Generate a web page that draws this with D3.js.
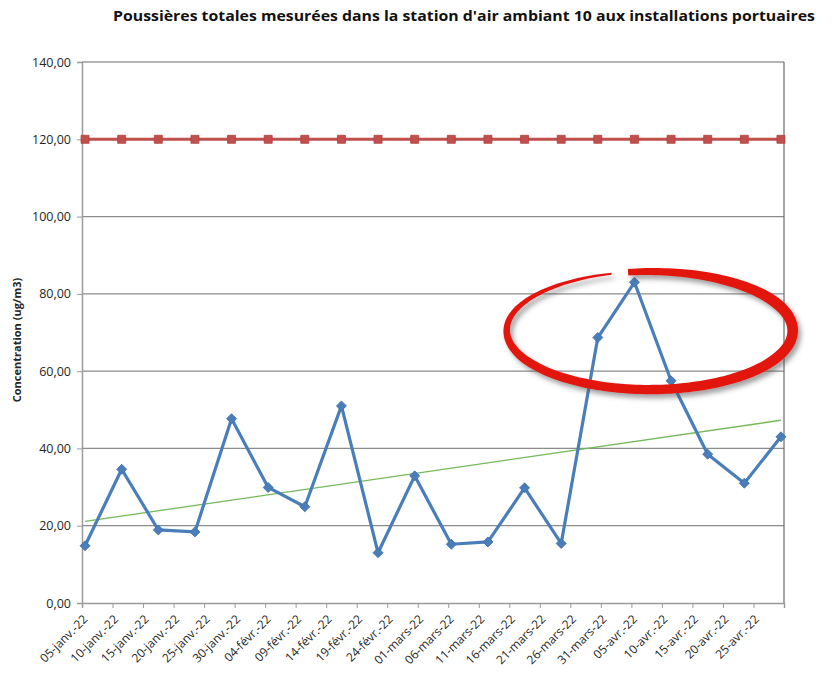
<!DOCTYPE html>
<html>
<head>
<meta charset="utf-8">
<script src="https://cdn.jsdelivr.net/npm/d3@7"></script>
<style>
  body { margin: 0; background: #fff; }
  text { font-family: "Open Sans", "Noto Sans", sans-serif; fill: #262626; }
</style>
</head>
<body>
<div id="chart"></div>
<script>
// measurement dates (every 6 days) and values in ug/m3
var dates = ["2022-01-05", "2022-01-11", "2022-01-17", "2022-01-23", "2022-01-29",
             "2022-02-04", "2022-02-10", "2022-02-16", "2022-02-22", "2022-02-28",
             "2022-03-06", "2022-03-12", "2022-03-18", "2022-03-24", "2022-03-30",
             "2022-04-05", "2022-04-11", "2022-04-17", "2022-04-23", "2022-04-29"];
var values = [14.8, 34.6, 18.9, 18.4, 47.7, 29.9, 24.9, 51.0, 13.0, 32.9,
              15.2, 15.8, 29.8, 15.4, 68.7, 83.0, 57.5, 38.5, 31.0, 43.0];
// norm (120 ug/m3) drawn at every measurement date
var limitValue = 120;
var tickLabels = ["05-janv.-22", "10-janv.-22", "15-janv.-22", "20-janv.-22", "25-janv.-22",
                  "30-janv.-22", "04-févr.-22", "09-févr.-22", "14-févr.-22", "19-févr.-22",
                  "24-févr.-22", "01-mars-22", "06-mars-22", "11-mars-22", "16-mars-22",
                  "21-mars-22", "26-mars-22", "31-mars-22", "05-avr.-22", "10-avr.-22",
                  "15-avr.-22", "20-avr.-22", "25-avr.-22"];
var yTicks = [0, 20, 40, 60, 80, 100, 120, 140];

var width = 833, height = 679;
var plot = {left: 82, right: 784, top: 62, bottom: 603};

var parse = d3.timeParse("%Y-%m-%d");
var dayMs = 24 * 3600 * 1000;
// excel puts points in the middle of the day slot
var points = dates.map((d, i) => ({date: new Date(parse(d).getTime() + dayMs / 2), value: values[i]}));

var xScale = d3.scaleTime()
    .domain([parse("2022-01-05"), parse("2022-04-30")])
    .range([plot.left, plot.right]);

var yScale = d3.scaleLinear()
    .domain([0, 140])
    .range([plot.bottom, plot.top]);

var svg = d3.select("#chart")
    .append("svg")
    .attr("width", width)
    .attr("height", height);

// title
svg.append("text")
    .attr("x", 113)
    .attr("y", 21)
    .attr("textLength", 702)
    .attr("lengthAdjust", "spacingAndGlyphs")
    .style("font-size", "14.5px")
    .style("font-weight", "bold")
    .style("fill", "#111")
    .text("Poussières totales mesurées dans la station d'air ambiant 10 aux installations portuaires");

// horizontal gridlines
svg.append("g")
    .selectAll("line")
    .data(yTicks.filter(d => d > 0))
    .enter()
    .append("line")
    .attr("x1", plot.left)
    .attr("x2", plot.right)
    .attr("y1", d => yScale(d))
    .attr("y2", d => yScale(d))
    .attr("stroke", d => d == 140 ? "#6b6b6b" : "#8c8c8c")
    .attr("stroke-width", 1.2);

// right border of plot area
svg.append("line")
    .attr("x1", plot.right).attr("x2", plot.right)
    .attr("y1", plot.top).attr("y2", plot.bottom)
    .attr("stroke", "#6b6b6b")
    .attr("stroke-width", 1.2);

// y axis
var yAxis = d3.axisLeft(yScale)
    .tickValues(yTicks)
    .tickSize(5)
    .tickPadding(6)
    .tickFormat(d => d3.format(".2f")(d).replace(".", ","));

var gy = svg.append("g")
    .attr("transform", "translate(" + plot.left + ",0)")
    .call(yAxis);
gy.select(".domain").attr("stroke", "#9a9a9a").attr("stroke-width", 1.5);
gy.selectAll(".tick line").attr("stroke", "#9a9a9a");
gy.selectAll(".tick text").style("font-size", "12.5px").style("font-family", "Open Sans");

// y axis title
svg.append("text")
    .attr("transform", "translate(21," + 340 + ") rotate(-90)")
    .attr("text-anchor", "middle")
    .style("font-size", "11px")
    .style("font-weight", "bold")
    .text("Concentration (ug/m3)");

// x axis, ticks every 5 days
var tickDates = d3.timeDay.range(parse("2022-01-05"), parse("2022-05-01"), 5);
var xAxis = d3.axisBottom(xScale)
    .tickValues(tickDates)
    .tickSize(5)
    .tickFormat((d, i) => tickLabels[i] || "");

var gx = svg.append("g")
    .attr("transform", "translate(0," + plot.bottom + ")")
    .call(xAxis);
gx.select(".domain").attr("stroke", "#9a9a9a").attr("stroke-width", 1.5);
gx.selectAll(".tick line").attr("stroke", "#9a9a9a");
gx.selectAll(".tick text")
    .attr("text-anchor", "end")
    .attr("y", 0)
    .attr("dy", "0.35em")
    .attr("transform", "translate(3,14) rotate(-45)")
    .style("font-size", "12px")
    .style("font-family", "Open Sans");

// limit line with square markers
var limitLine = d3.line()
    .x(d => xScale(d.date))
    .y(d => yScale(limitValue));

svg.append("path")
    .datum(points)
    .attr("fill", "none")
    .attr("stroke", "#c0504d")
    .attr("stroke-width", 3)
    .attr("d", limitLine);

svg.append("g")
    .selectAll("path")
    .data(points)
    .enter()
    .append("path")
    .attr("transform", d => "translate(" + xScale(d.date) + "," + yScale(limitValue) + ")")
    .attr("d", d3.symbol().type(d3.symbolSquare).size(64))
    .attr("fill", "#c0504d")
    .attr("stroke", "#b23f3c")
    .attr("stroke-width", 0.8);

// linear trend line (least squares on the series)
var n = values.length;
var meanI = (n - 1) / 2, meanV = d3.mean(values);
var num = d3.sum(values, (v, i) => (i - meanI) * (v - meanV));
var den = d3.sum(values, (v, i) => (i - meanI) * (i - meanI));
var slope = num / den, intercept = meanV - slope * meanI;

svg.append("line")
    .attr("x1", xScale(points[0].date))
    .attr("y1", yScale(intercept))
    .attr("x2", xScale(points[n - 1].date))
    .attr("y2", yScale(intercept + slope * (n - 1)))
    .attr("stroke", "#74b95a")
    .attr("stroke-width", 1.3);

// measured series
var line = d3.line()
    .x(d => xScale(d.date))
    .y(d => yScale(d.value));

svg.append("path")
    .datum(points)
    .attr("fill", "none")
    .attr("stroke", "#4a7ebb")
    .attr("stroke-width", 3.2)
    .attr("stroke-linejoin", "round")
    .attr("d", line);

// diamonds = squares turned by 45 degrees, like excel markers
svg.append("g")
    .selectAll("path")
    .data(points)
    .enter()
    .append("path")
    .attr("transform", d => "translate(" + xScale(d.date) + "," + yScale(d.value) + ") rotate(45)")
    .attr("d", d3.symbol().type(d3.symbolSquare).size(50))
    .attr("fill", "#4a7ebb")
    .attr("stroke", "#3f6fa8")
    .attr("stroke-width", 0.8);

// hand drawn red ellipse around the april peak
var defs = svg.append("defs");
var shadow = defs.append("filter")
    .attr("id", "shadow")
    .attr("x", "-20%").attr("y", "-30%")
    .attr("width", "140%").attr("height", "160%");
shadow.append("feDropShadow")
    .attr("dx", 3).attr("dy", 4)
    .attr("stdDeviation", 2.5)
    .attr("flood-color", "#555")
    .attr("flood-opacity", 0.55);

var cx = xScale(parse("2022-04-08")), cy = yScale(70.5), rx = 143, ry = 59;
var t0 = -Math.PI / 2 - 0.152, t1 = 1.5 * Math.PI - 0.27;
function brushWidth(s) {
  if (s < 0.2) return 6.5 + 4.5 * s / 0.2;
  if (s < 0.7) return 11 - 2.5 * (s - 0.2) / 0.5;
  return 8.5 - 6.5 * (s - 0.7) / 0.3;
}
var outer = [], inner = [];
for (var k = 0; k <= 200; k++) {
  var s = k / 200, t = t0 + s * (t1 - t0);
  var px = cx + rx * Math.cos(t), py = cy + ry * Math.sin(t);
  var nx = ry * Math.cos(t), ny = rx * Math.sin(t);
  var len = Math.sqrt(nx * nx + ny * ny);
  var w = brushWidth(s) / 2;
  outer.push([px + nx / len * w, py + ny / len * w]);
  inner.push([px - nx / len * w, py - ny / len * w]);
}
svg.append("path")
    .attr("d", d3.line()(outer.concat(inner.reverse())) + "Z")
    .attr("fill", "#e3140d")
    .attr("filter", "url(#shadow)");
</script>
</body>
</html>
